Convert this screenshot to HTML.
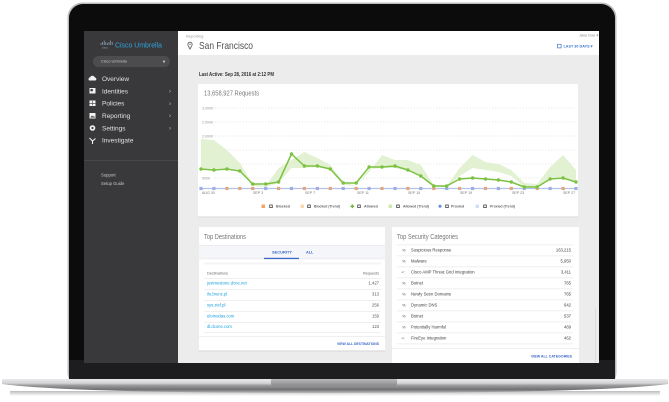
<!DOCTYPE html>
<html><head><meta charset="utf-8"><style>
html,body{margin:0;padding:0;background:#fff;width:669px;height:402px;overflow:hidden}
svg{display:block}
text{font-family:"Liberation Sans",sans-serif}
</style></head><body>
<svg width="669" height="402" viewBox="0 0 669 402" xmlns="http://www.w3.org/2000/svg">
<defs>
<linearGradient id="base" x1="0" y1="0" x2="0" y2="1">
<stop offset="0" stop-color="#e9e9ea"/><stop offset="0.3" stop-color="#d4d4d6"/><stop offset="0.45" stop-color="#9d9d9f"/><stop offset="0.75" stop-color="#707072"/><stop offset="1" stop-color="#bdbdbd"/>
</linearGradient>
<linearGradient id="notch" x1="0" y1="0" x2="0" y2="1">
<stop offset="0" stop-color="#b9b9bb"/><stop offset="1" stop-color="#8a8a8c"/>
</linearGradient>
<linearGradient id="shadow" x1="0" y1="0" x2="0" y2="1">
<stop offset="0" stop-color="#bbb"/><stop offset="1" stop-color="#fff"/>
</linearGradient>
</defs>

<!-- laptop lid -->
<rect x="67.5" y="2.5" width="549" height="385" rx="15" fill="#bdbdbf"/>
<rect x="69" y="4" width="546" height="383" rx="14" fill="#0c0c0d"/>
<rect x="69" y="360" width="546" height="20" fill="#1d1d20"/>

<!-- base shadow & base -->
<rect x="10" y="391" width="650" height="5" fill="url(#shadow)"/>
<path d="M3,379 L666,379 Q668,379 668,381 L668,384 Q600,393 334,393 Q68,393 2,384 L2,381 Q2,379 3,379 Z" fill="url(#base)"/>
<path d="M271,379 L397,379 L397,384 Q397,386 394,386 L274,386 Q271,386 271,384 Z" fill="url(#notch)"/>

<!-- screen -->
<rect x="84" y="31" width="515" height="332" fill="#ececec"/>
<rect x="84" y="31" width="94" height="332" fill="#39393b"/>
<rect x="178" y="31" width="421" height="24" fill="#ffffff"/>
<rect x="595" y="308" width="1" height="55" fill="#dcdcdc"/>

<!-- sidebar -->
<g stroke="#8fa6bb" stroke-width="0.7">
<line x1="101" y1="43" x2="101" y2="45"/><line x1="102.6" y1="42" x2="102.6" y2="45"/><line x1="104.2" y1="40.5" x2="104.2" y2="45"/><line x1="105.8" y1="42" x2="105.8" y2="45"/><line x1="107.4" y1="43" x2="107.4" y2="45"/><line x1="109" y1="42" x2="109" y2="45"/><line x1="110.6" y1="40.5" x2="110.6" y2="45"/><line x1="112.2" y1="42" x2="112.2" y2="45"/>
</g>
<text x="102" y="48.5" font-size="2.6" fill="#8fa6bb">cisco</text>
<text x="115" y="47.3" font-size="7" fill="#2ea3dd" textLength="47" lengthAdjust="spacingAndGlyphs">Cisco Umbrella</text>
<rect x="93" y="56" width="77" height="11" rx="5.5" fill="#4c4c4f"/>
<text x="101" y="62.7" font-size="3.8" fill="#c9c9c9">Cisco Umbrella</text>
<text x="162" y="63" font-size="4" fill="#e0e0e0">▼</text>

<g fill="#f2f2f2">
<path d="M89,80.5 a2,2 0 0 1 1.2,-3.3 a2.4,2.4 0 0 1 4.5,0.2 a1.6,1.6 0 0 1 0.6,3.1 Z"/>
<rect x="89.5" y="88" width="6" height="5.5"/>
<rect x="89.5" y="100.5" width="6" height="5.5"/>
<rect x="89.5" y="113" width="6" height="5.5"/>
<circle cx="92.5" cy="128" r="2.8"/>
<path d="M89.5,138 L92.5,141 L95.5,138.5 M92.5,141 L92.5,144" stroke="#f2f2f2" stroke-width="1.1" fill="none"/>
</g>
<g fill="#39393b"><rect x="90.5" y="89" width="2.3" height="2.3"/><rect x="92.2" y="101" width="0.6" height="4.5"/><rect x="89.5" y="103" width="6" height="0.6"/><path d="M90.5,117.5 L92,115.5 L93.2,116.8 L94,116 L95,117.5 Z"/><circle cx="92.5" cy="128" r="1.1"/></g>
<g font-size="6.5" fill="#e2e2e2">
<text x="102" y="81">Overview</text>
<text x="102" y="93.3">Identities</text>
<text x="102" y="105.6">Policies</text>
<text x="102" y="118">Reporting</text>
<text x="102" y="130.3">Settings</text>
<text x="102" y="142.7">Investigate</text>
</g>
<g font-size="6" fill="#bdbdbd">
<text x="169" y="93">›</text><text x="169" y="105.3">›</text><text x="169" y="117.7">›</text><text x="169" y="130">›</text>
</g>
<rect x="84" y="160" width="94" height="0.8" fill="#4d4d50"/>
<text x="101" y="176.5" font-size="4.2" fill="#c8c8c8">Support</text>
<text x="101" y="185" font-size="4.2" fill="#c8c8c8">Setup Guide</text>

<!-- header -->
<text x="186" y="37.5" font-size="4" fill="#9a9a9a">Reporting</text>
<path d="M190,49 L188,45.3 A2.2,2.2 0 1 1 192,45.3 Z" fill="none" stroke="#666" stroke-width="0.9"/>
<circle cx="190" cy="44.3" r="0.7" fill="#666"/>
<text x="199" y="48.8" font-size="10.5" fill="#505050" textLength="54" lengthAdjust="spacingAndGlyphs">San Francisco</text>
<text x="579" y="36.3" font-size="3.8" fill="#8a8a8a">Jane Doe ▾</text>
<rect x="557.5" y="44.3" width="3.6" height="3.6" fill="none" stroke="#3b74d0" stroke-width="0.7"/>
<text x="563.5" y="47.3" font-size="3.8" font-weight="bold" fill="#3b74d0" textLength="29" lengthAdjust="spacingAndGlyphs">LAST 30 DAYS ▾</text>

<text x="199" y="75.8" font-size="5" font-weight="bold" fill="#333" textLength="75" lengthAdjust="spacingAndGlyphs">Last Active: Sep 28, 2016 at 2:12 PM</text>

<!-- chart card -->
<rect x="198" y="84.5" width="380" height="133" fill="#d8d8d8"/>
<rect x="198" y="84" width="380" height="132.5" fill="#ffffff"/>
<text x="204" y="95.5" font-size="7.5" fill="#7a7a7a" textLength="55" lengthAdjust="spacingAndGlyphs">13,658,927 Requests</text>

<g stroke="#dcdcdc" stroke-width="0.7" stroke-dasharray="1 1.8">
<line x1="215" y1="108" x2="576" y2="108"/>
<line x1="215" y1="122" x2="576" y2="122"/>
<line x1="215" y1="136" x2="576" y2="136"/>
<line x1="215" y1="150" x2="576" y2="150"/>
<line x1="215" y1="164" x2="576" y2="164"/>
<line x1="215" y1="178" x2="576" y2="178"/>
</g>
<g font-size="3.6" fill="#999">
<text x="202" y="109.3">3,000K</text>
<text x="202" y="123.3">2,500K</text>
<text x="202" y="137.3">2,000K</text>
<text x="202" y="151.3">1,500K</text>
<text x="202" y="165.3">1,000K</text>
<text x="202" y="179.3">500K</text>
</g>

<!-- trend band -->
<polygon fill="#e3f1d3" points="201,139 213.9,140 226.9,150 239.8,163 252.7,184 265.7,186 278.6,168 291.5,160 304.4,152 317.4,158 330.3,165 343.2,182 356.2,186 369.1,172 382,155 395,160 407.9,160 420.8,165 433.8,185 446.7,186 459.6,168 472.6,155 485.5,162 498.4,164 511.3,170 524.3,183 537.2,184 550.1,167 563.1,155 576,170 576,183 563.1,177 550.1,178 537.2,187 524.3,187 511.3,176 498.4,172 485.5,170 472.6,168 459.6,176 446.7,187 433.8,187 420.8,177 407.9,171 395,168 382,168 369.1,169 356.2,186 343.2,185 330.3,170 317.4,167 304.4,168 291.5,168 278.6,183 265.7,187 252.7,186 239.8,170 226.9,168 213.9,169 201,168"/>

<!-- baseline -->
<line x1="201" y1="188.5" x2="576" y2="188.5" stroke="#b3c2ec" stroke-width="1.2"/>
<g>
<rect x="199.4" y="186.9" width="3.2" height="3.2" fill="#9fade0"/>
<rect x="212.3" y="186.9" width="3.2" height="3.2" fill="#9fade0"/>
<rect x="225.3" y="186.9" width="3.2" height="3.2" fill="#e3a77f"/>
<rect x="238.2" y="186.9" width="3.2" height="3.2" fill="#e3a77f"/>
<rect x="251.1" y="186.9" width="3.2" height="3.2" fill="#e3a77f"/>
<rect x="264.1" y="186.9" width="3.2" height="3.2" fill="#9fade0"/>
<rect x="277" y="186.9" width="3.2" height="3.2" fill="#e3a77f"/>
<rect x="289.9" y="186.9" width="3.2" height="3.2" fill="#9fade0"/>
<rect x="302.8" y="186.9" width="3.2" height="3.2" fill="#e3a77f"/>
<rect x="315.8" y="186.9" width="3.2" height="3.2" fill="#9fade0"/>
<rect x="328.7" y="186.9" width="3.2" height="3.2" fill="#e3a77f"/>
<rect x="341.6" y="186.9" width="3.2" height="3.2" fill="#9fade0"/>
<rect x="354.6" y="186.9" width="3.2" height="3.2" fill="#e3a77f"/>
<rect x="367.5" y="186.9" width="3.2" height="3.2" fill="#9fade0"/>
<rect x="380.4" y="186.9" width="3.2" height="3.2" fill="#e3a77f"/>
<rect x="393.4" y="186.9" width="3.2" height="3.2" fill="#9fade0"/>
<rect x="406.3" y="186.9" width="3.2" height="3.2" fill="#e3a77f"/>
<rect x="419.2" y="186.9" width="3.2" height="3.2" fill="#9fade0"/>
<rect x="432.2" y="186.9" width="3.2" height="3.2" fill="#e3a77f"/>
<rect x="445.1" y="186.9" width="3.2" height="3.2" fill="#9fade0"/>
<rect x="458" y="186.9" width="3.2" height="3.2" fill="#e3a77f"/>
<rect x="471" y="186.9" width="3.2" height="3.2" fill="#9fade0"/>
<rect x="483.9" y="186.9" width="3.2" height="3.2" fill="#e3a77f"/>
<rect x="496.8" y="186.9" width="3.2" height="3.2" fill="#9fade0"/>
<rect x="509.7" y="186.9" width="3.2" height="3.2" fill="#e3a77f"/>
<rect x="522.7" y="186.9" width="3.2" height="3.2" fill="#9fade0"/>
<rect x="535.6" y="186.9" width="3.2" height="3.2" fill="#e3a77f"/>
<rect x="548.5" y="186.9" width="3.2" height="3.2" fill="#9fade0"/>
<rect x="561.5" y="186.9" width="3.2" height="3.2" fill="#e3a77f"/>
<rect x="574.4" y="186.9" width="3.2" height="3.2" fill="#9fade0"/>
</g>

<!-- allowed line -->
<polyline fill="none" stroke="#7cc242" stroke-width="1.5" stroke-linejoin="round" points="201,169 213.9,170 226.9,169 239.8,171 252.7,184 265.7,184 278.6,182 291.5,154 304.4,166 317.4,166 330.3,169 343.2,183 356.2,183 369.1,167 382,167 395,166 407.9,170 420.8,176 433.8,186 446.7,186 459.6,179 472.6,178 485.5,179 498.4,180 511.3,182 524.3,187 537.2,187 550.1,179 563.1,178 576,182"/>
<g fill="#7cc242">
<circle cx="201" cy="169" r="1.7"/><circle cx="213.9" cy="170" r="1.7"/><circle cx="226.9" cy="169" r="1.7"/><circle cx="239.8" cy="171" r="1.7"/><circle cx="252.7" cy="184" r="1.7"/><circle cx="265.7" cy="184" r="1.7"/><circle cx="278.6" cy="182" r="1.7"/><circle cx="291.5" cy="154" r="1.7"/><circle cx="304.4" cy="166" r="1.7"/><circle cx="317.4" cy="166" r="1.7"/><circle cx="330.3" cy="169" r="1.7"/><circle cx="343.2" cy="183" r="1.7"/><circle cx="356.2" cy="183" r="1.7"/><circle cx="369.1" cy="167" r="1.7"/><circle cx="382" cy="167" r="1.7"/><circle cx="395" cy="166" r="1.7"/><circle cx="407.9" cy="170" r="1.7"/><circle cx="420.8" cy="176" r="1.7"/><circle cx="433.8" cy="186" r="1.7"/><circle cx="446.7" cy="186" r="1.7"/><circle cx="459.6" cy="179" r="1.7"/><circle cx="472.6" cy="178" r="1.7"/><circle cx="485.5" cy="179" r="1.7"/><circle cx="498.4" cy="180" r="1.7"/><circle cx="511.3" cy="182" r="1.7"/><circle cx="524.3" cy="187" r="1.7"/><circle cx="537.2" cy="187" r="1.7"/><circle cx="550.1" cy="179" r="1.7"/><circle cx="563.1" cy="178" r="1.7"/><circle cx="576" cy="182" r="1.7"/>
</g>

<g font-size="3.6" fill="#777">
<text x="202" y="193.8">AUG 30</text>
<text x="253" y="193.8">SEP 3</text>
<text x="305" y="193.8">SEP 7</text>
<text x="357" y="193.8">SEP 11</text>
<text x="408" y="193.8">SEP 15</text>
<text x="460" y="193.8">SEP 19</text>
<text x="512" y="193.8">SEP 23</text>
<text x="563" y="193.8">SEP 27</text>
</g>

<!-- legend -->
<g>
<rect x="261.5" y="204.5" width="3.5" height="3.5" fill="#f0a565"/>
<rect x="300.5" y="204.5" width="3.5" height="3.5" fill="#fbd7b3"/>
<path d="M350.5,206.3 h3.6 M352.3,204.5 v3.6" stroke="#6cb833" stroke-width="1.4"/>
<rect x="388.5" y="204.5" width="3.5" height="3.5" fill="#cfe8b0"/>
<path d="M440,204.3 L442,206.3 L440,208.3 L438,206.3 Z" fill="#6d8fe0"/>
<rect x="475.5" y="204.5" width="3.5" height="3.5" fill="#d3ddf5"/>
</g>
<g fill="#fff" stroke="#444" stroke-width="0.8">
<rect x="269.7" y="205" width="2.6" height="2.6"/>
<rect x="307.7" y="205" width="2.6" height="2.6"/>
<rect x="357.7" y="205" width="2.6" height="2.6"/>
<rect x="396.7" y="205" width="2.6" height="2.6"/>
<rect x="445.7" y="205" width="2.6" height="2.6"/>
<rect x="483.7" y="205" width="2.6" height="2.6"/>
</g>
<g font-size="3.6" font-weight="bold" fill="#666">
<text x="276" y="207.6">Blocked</text>
<text x="314" y="207.6" textLength="26" lengthAdjust="spacingAndGlyphs">Blocked (Trend)</text>
<text x="364" y="207.6">Allowed</text>
<text x="403" y="207.6" textLength="26" lengthAdjust="spacingAndGlyphs">Allowed (Trend)</text>
<text x="451" y="207.6">Proxied</text>
<text x="490" y="207.6" textLength="25" lengthAdjust="spacingAndGlyphs">Proxied (Trend)</text>
</g>

<!-- Top Destinations card -->
<rect x="199" y="227.5" width="186" height="124" fill="#d6d6d6"/>
<rect x="199" y="227" width="186" height="123.5" fill="#ffffff"/>
<text x="204" y="238.8" font-size="7" fill="#777" textLength="42" lengthAdjust="spacingAndGlyphs">Top Destinations</text>
<rect x="199" y="245" width="186" height="14" fill="#f5f6fa"/>
<rect x="199" y="245" width="186" height="0.6" fill="#e6e6e6"/>
<rect x="199" y="258.6" width="186" height="0.6" fill="#e6e6e6"/>
<text x="272" y="253.6" font-size="3.8" font-weight="bold" fill="#3a66c8" textLength="20" lengthAdjust="spacingAndGlyphs">SECURITY</text>
<text x="306" y="253.6" font-size="3.8" font-weight="bold" fill="#3a66c8">ALL</text>
<rect x="264" y="257.8" width="35" height="1.3" fill="#3a66c8"/>
<rect x="204" y="262.5" width="177" height="2" fill="#f4f4f4"/>
<text x="207" y="274.5" font-size="3.8" fill="#666">Destinations</text>
<text x="379" y="274.5" font-size="3.8" fill="#666" text-anchor="end">Requests</text>
<g fill="#e8e8e8">
<rect x="204" y="278" width="177" height="0.7"/>
<rect x="204" y="289" width="177" height="0.7"/>
<rect x="204" y="300" width="177" height="0.7"/>
<rect x="204" y="311" width="177" height="0.7"/>
<rect x="204" y="322" width="177" height="0.7"/>
<rect x="204" y="332" width="177" height="0.7"/>
<rect x="199" y="336" width="186" height="0.7"/>
</g>
<g font-size="4.2" fill="#1a9fdc">
<text x="207" y="284.5">justmestone.dcne.net</text>
<text x="207" y="295.5">ilo.brenz.pl</text>
<text x="207" y="306.5">sys.zief.pl</text>
<text x="207" y="317.3">elomodas.com</text>
<text x="207" y="328">dl.dcone.com</text>
</g>
<g font-size="4.2" fill="#555" text-anchor="end">
<text x="379" y="284.5">1,427</text>
<text x="379" y="295.5">313</text>
<text x="379" y="306.5">256</text>
<text x="379" y="317.3">159</text>
<text x="379" y="328">123</text>
</g>
<text x="379" y="344.8" font-size="3.5" font-weight="bold" fill="#3a66c8" text-anchor="end" textLength="42" lengthAdjust="spacingAndGlyphs">VIEW ALL DESTINATIONS</text>

<!-- Top Security Categories card -->
<rect x="392" y="227" width="187" height="136" fill="#ffffff"/>
<text x="397" y="238.8" font-size="7" fill="#777" textLength="61" lengthAdjust="spacingAndGlyphs">Top Security Categories</text>
<g fill="#e8e8e8">
<rect x="397" y="244.5" width="176" height="0.7"/>
<rect x="397" y="255.5" width="176" height="0.7"/>
<rect x="397" y="266.5" width="176" height="0.7"/>
<rect x="397" y="277.5" width="176" height="0.7"/>
<rect x="397" y="288.5" width="176" height="0.7"/>
<rect x="397" y="299.5" width="176" height="0.7"/>
<rect x="397" y="310.5" width="176" height="0.7"/>
<rect x="397" y="321.5" width="176" height="0.7"/>
<rect x="397" y="332.5" width="176" height="0.7"/>
<rect x="397" y="343.5" width="176" height="0.7"/>
<rect x="392" y="348" width="187" height="0.7"/>
</g>
<g font-size="4" fill="#555">
<text x="402" y="251.5">%</text>
<text x="402" y="262.5">%</text>
<text x="401.5" y="273.5">«:</text>
<text x="402" y="284.5">%</text>
<text x="402" y="295.5">%</text>
<text x="402" y="306.5">%</text>
<text x="402" y="317.5">%</text>
<text x="402" y="328.5">%</text>
<text x="401.5" y="339.5">«:</text>
</g>
<g font-size="4.2" fill="#444">
<text x="411" y="251.5">Suspicious Response</text>
<text x="411" y="262.5">Malware</text>
<text x="411" y="273.5">Cisco AMP Threat Grid Integration</text>
<text x="411" y="284.5">Botnet</text>
<text x="411" y="295.5">Newly Seen Domains</text>
<text x="411" y="306.5">Dynamic DNS</text>
<text x="411" y="317.5">Botnet</text>
<text x="411" y="328.5">Potentially Harmful</text>
<text x="411" y="339.5">FireEye Integration</text>
</g>
<g font-size="4.2" fill="#444" text-anchor="end">
<text x="571" y="251.5">163,215</text>
<text x="571" y="262.5">5,950</text>
<text x="571" y="273.5">3,411</text>
<text x="571" y="284.5">765</text>
<text x="571" y="295.5">765</text>
<text x="571" y="306.5">642</text>
<text x="571" y="317.5">537</text>
<text x="571" y="328.5">469</text>
<text x="571" y="339.5">462</text>
</g>
<text x="572" y="357.5" font-size="3.5" font-weight="bold" fill="#3a66c8" text-anchor="end" textLength="41" lengthAdjust="spacingAndGlyphs">VIEW ALL CATEGORIES</text>
</svg>
</body></html>
